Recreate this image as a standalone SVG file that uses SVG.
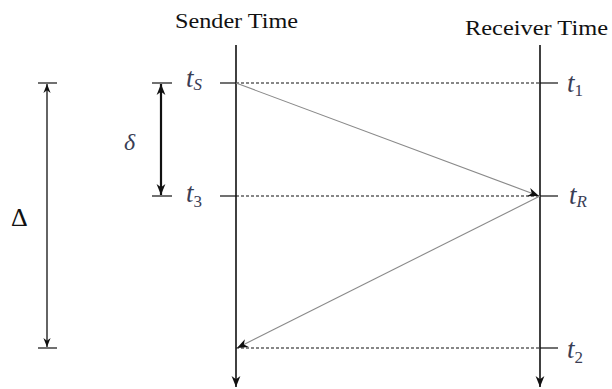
<svg xmlns="http://www.w3.org/2000/svg" width="612" height="389" viewBox="0 0 612 389">
<style>
.title{font-family:"Liberation Serif","Times New Roman",Times,serif;font-size:20px;fill:#111}
.math{font-family:"Liberation Serif","Times New Roman",Times,serif;font-size:27px;font-style:italic;fill:#3a3d55}
.sub{font-size:17px}
.up{font-style:normal}
.axis{stroke:#111;stroke-width:1.6;fill:none}
.tick{stroke:#111;stroke-width:1.2;fill:none}
.dash{stroke:#111;stroke-width:1.1;stroke-dasharray:3,2;fill:none}
.msg{stroke:#8a8a8a;stroke-width:1.1;fill:none}
.meas{stroke:#111;stroke-width:1.3;fill:none}
</style>
<defs>
<marker id="ah" viewBox="0 0 10 10" refX="10" refY="5" markerWidth="14" markerHeight="9" markerUnits="userSpaceOnUse" orient="auto-start-reverse">
<path d="M0,1 L10,5 L0,9 L3,5 z" fill="#111"/>
</marker>
<marker id="ahb" viewBox="0 0 10 10" refX="10" refY="5" markerWidth="16" markerHeight="11" markerUnits="userSpaceOnUse" orient="auto-start-reverse">
<path d="M0,1 L10,5 L0,9 L3,5 z" fill="#111"/>
</marker>
</defs>
<g id="sender-axis">
<text class="title" x="175" y="28" textLength="123" lengthAdjust="spacingAndGlyphs">Sender Time</text>
<line class="axis" x1="236" y1="45" x2="236" y2="387" marker-end="url(#ahb)"/>
</g>
<g id="receiver-axis">
<text class="title" x="465" y="35" textLength="143" lengthAdjust="spacingAndGlyphs">Receiver Time</text>
<line class="axis" x1="540" y1="45" x2="540" y2="387" marker-end="url(#ahb)"/>
</g>
<g id="label-tS"><text class="math" x="186" y="87">t<tspan class="sub" dy="3">S</tspan></text></g>
<g id="label-t3"><text class="math" x="186" y="202">t<tspan class="sub up" dy="5">3</tspan></text></g>
<g id="label-t1"><text class="math" x="567" y="92">t<tspan class="sub up" dy="4">1</tspan></text></g>
<g id="label-tR"><text class="math" x="569" y="204">t<tspan class="sub" dy="3">R</tspan></text></g>
<g id="label-t2"><text class="math" x="567" y="358">t<tspan class="sub up" dy="5">2</tspan></text></g>
<g id="label-delta-big"><text x="11" y="226" style="font-family:'Liberation Serif','Times New Roman',serif;font-size:26px;fill:#111">Δ</text></g>
<g id="label-delta-small"><text class="math" x="124" y="150" style="font-size:24px">δ</text></g>
<g id="connectors">
<line class="tick" x1="220" y1="83" x2="236" y2="83"/>
<line class="dash" x1="236" y1="83" x2="540" y2="83"/>
<line class="tick" x1="540" y1="83" x2="558" y2="83"/>
<line class="tick" x1="220" y1="196" x2="236" y2="196"/>
<line class="dash" x1="236" y1="196" x2="540" y2="196"/>
<line class="tick" x1="540" y1="196" x2="558" y2="196"/>
<line class="dash" x1="236" y1="348" x2="540" y2="348"/>
<line class="tick" x1="540" y1="348" x2="558" y2="348"/>
<line class="msg" x1="236" y1="83" x2="539" y2="196" marker-end="url(#ahb)"/>
<line class="msg" x1="540" y1="196" x2="237" y2="348" marker-end="url(#ahb)"/>
<line class="tick" x1="38" y1="83" x2="57" y2="83"/>
<line class="tick" x1="38" y1="348" x2="57" y2="348"/>
<line class="meas" x1="47" y1="84" x2="47" y2="347" marker-start="url(#ah)" marker-end="url(#ah)"/>
<line class="tick" x1="152" y1="83" x2="172" y2="83"/>
<line class="tick" x1="152" y1="196" x2="172" y2="196"/>
<line class="meas" style="stroke-width:2.2" x1="161" y1="84" x2="161" y2="195" marker-start="url(#ahb)" marker-end="url(#ahb)"/>
</g>
</svg>
